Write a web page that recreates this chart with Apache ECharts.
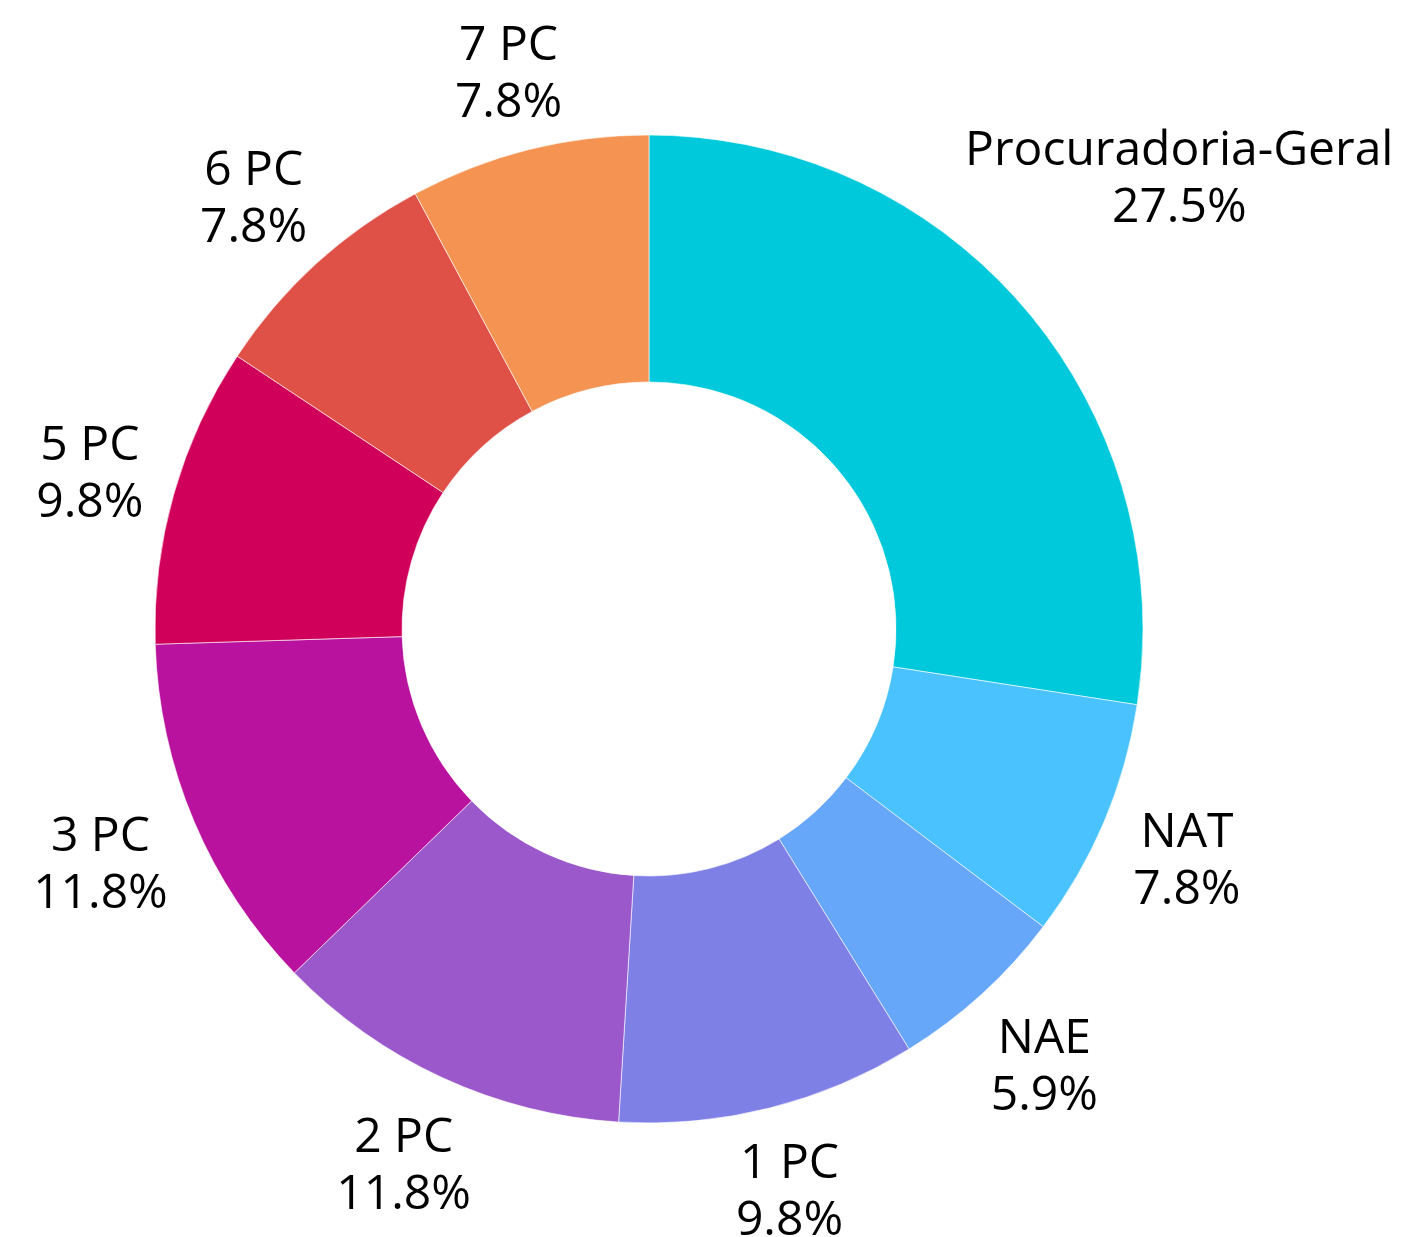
<!DOCTYPE html>
<html><head><meta charset="utf-8">
<script src="https://cdn.jsdelivr.net/npm/echarts@6/dist/echarts.min.js"></script>
<style>html,body{margin:0;padding:0;background:#fff}#c{width:1402px;height:1237px}</style>
</head><body><div id="c"></div>
<script>
const categories = ['Procuradoria-Geral', 'NAT', 'NAE', '1 PC', '2 PC', '3 PC', '5 PC', '6 PC', '7 PC'];
const counts = [14, 4, 3, 5, 6, 6, 5, 4, 4];
const colors = ['#00C9DC', '#4AC2FD', '#66A7F9', '#7F80E6', '#9A58CB', '#B9129E', '#D0005A', '#DF5047', '#F59352'];

const CX = 649, CY = 629, R_OUT = 494, R_IN = 247, GAP = 31, SHIFT_Y = 5;
const total = counts.reduce((a, b) => a + b, 0);
const mids = [];
let acc = 0;
counts.forEach(v => { mids.push((acc + v / 2) / total * 2 * Math.PI); acc += v; });

const chart = echarts.init(document.getElementById('c'), null, {renderer: 'canvas'});
chart.setOption({
  animation: false,
  backgroundColor: '#fff',
  series: [{
    type: 'pie',
    center: [CX, CY],
    radius: [R_IN, R_OUT],
    startAngle: 90,
    clockwise: true,
    avoidLabelOverlap: false,
    data: categories.map((n, i) => ({name: n, value: counts[i], itemStyle: {color: colors[i]}})),
    itemStyle: {borderColor: '#ffffff', borderWidth: 0.6},
    emphasis: {disabled: true},
    label: {
      show: true,
      position: 'outside',
      formatter: p => p.name + '\n' + (p.value / total * 100).toFixed(1) + '%',
      fontFamily: 'Open Sans',
      fontSize: 48,
      lineHeight: 57,
      color: '#000',
      align: 'center'
    },
    labelLine: {show: false},
    labelLayout: function (p) {
      const a = mids[p.dataIndex];
      const dx = Math.sin(a), dy = -Math.cos(a);
      const hw = (p.labelRect.width / 2 - 2) * 0.91;
      const hh = p.labelRect.height * 0.42 - 7;
      const D = R_OUT + GAP + hw * Math.abs(dx) + hh * Math.abs(dy);
      return {x: CX + dx * D, y: CY + dy * D + SHIFT_Y, align: 'center', verticalAlign: 'middle'};
    }
  }]
});
</script>
</body></html>
